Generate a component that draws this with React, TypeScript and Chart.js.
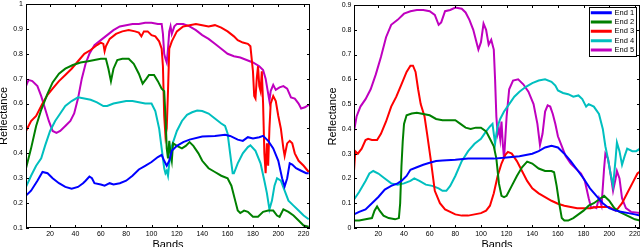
import { useEffect, useRef } from "react";
import { Chart, registerables } from "chart.js";

Chart.register(...registerables);

const FONT = "'Liberation Sans', Arial, Helvetica, sans-serif";

const SERIES_LABELS = ["End 1", "End 2", "End 3", "End 4", "End 5"];
const SERIES_COLORS = ["#0000ff", "#008000", "#ff0000", "#00bfbf", "#bf00bf"];

const X_TICKS = [20, 40, 60, 80, 100, 120, 140, 160, 180, 200, 220];
const Y_TICKS_LEFT = [0.1, 0.2, 0.3, 0.4, 0.5, 0.6, 0.7, 0.8, 0.9, 1];
const Y_TICKS_RIGHT = [0, 0.1, 0.2, 0.3, 0.4, 0.5, 0.6, 0.7, 0.8, 0.9];

type Pt = [number, number];

// ---------- Left panel: [band, reflectance] ----------
const LEFT_END1: Pt[] = [[1,0.23],[5,0.25],[10,0.29],[14,0.325],[18,0.32],[22,0.30],[27,0.28],[32,0.265],[37,0.258],[42,0.265],[46,0.28],[48,0.29],[51,0.307],[53,0.30],[55,0.28],[60,0.275],[63,0.27],[67,0.28],[70,0.275],[75,0.28],[80,0.29],[85,0.31],[90,0.335],[95,0.35],[100,0.365],[105,0.385],[108,0.394],[110,0.37],[112,0.35],[114,0.37],[116,0.41],[120,0.43],[125,0.445],[130,0.455],[140,0.468],[150,0.47],[158,0.475],[162,0.47],[168,0.455],[172,0.45],[176,0.465],[180,0.46],[185,0.465],[188,0.47],[192,0.45],[196,0.42],[200,0.37],[203,0.30],[205,0.267],[207,0.30],[209,0.36],[211,0.355],[214,0.34],[218,0.33],[222,0.32],[224,0.32]];
const LEFT_END2: Pt[] = [[1,0.34],[5,0.42],[9,0.51],[13,0.575],[18,0.64],[22,0.685],[27,0.72],[32,0.74],[38,0.755],[44,0.765],[50,0.77],[55,0.775],[60,0.78],[64,0.78],[66,0.74],[68,0.69],[70,0.74],[73,0.775],[77,0.78],[82,0.78],[86,0.76],[90,0.72],[93,0.68],[96,0.70],[98,0.715],[102,0.715],[105,0.69],[108,0.66],[110,0.65],[111,0.55],[112,0.42],[113,0.38],[114,0.45],[115,0.40],[116,0.37],[117,0.44],[120,0.43],[124,0.42],[127,0.43],[130,0.445],[133,0.43],[137,0.40],[140,0.37],[145,0.34],[150,0.325],[155,0.31],[160,0.30],[163,0.27],[166,0.21],[168,0.17],[170,0.16],[173,0.17],[176,0.165],[180,0.145],[184,0.145],[188,0.165],[192,0.17],[196,0.17],[199,0.15],[201,0.145],[204,0.175],[208,0.165],[212,0.15],[216,0.13],[220,0.11],[224,0.105]];
const LEFT_END3: Pt[] = [[1,0.49],[5,0.53],[9,0.55],[14,0.60],[18,0.635],[22,0.66],[27,0.69],[32,0.715],[37,0.74],[42,0.77],[47,0.80],[52,0.815],[57,0.835],[60,0.845],[62,0.84],[63,0.81],[64,0.83],[67,0.86],[72,0.88],[77,0.89],[82,0.895],[87,0.89],[90,0.885],[92,0.87],[94,0.89],[97,0.89],[100,0.875],[103,0.87],[106,0.85],[108,0.82],[109,0.75],[110,0.55],[111,0.47],[112,0.50],[113,0.65],[114,0.82],[116,0.85],[120,0.89],[125,0.91],[130,0.915],[135,0.92],[140,0.915],[145,0.91],[150,0.915],[155,0.905],[160,0.89],[165,0.87],[168,0.855],[172,0.845],[176,0.84],[178,0.83],[180,0.73],[181,0.63],[182,0.62],[183,0.70],[184,0.75],[185,0.67],[186,0.65],[187,0.73],[188,0.60],[189,0.40],[190,0.32],[191,0.44],[192,0.35],[193,0.50],[194,0.60],[196,0.63],[198,0.61],[200,0.55],[202,0.50],[204,0.42],[205,0.39],[207,0.44],[209,0.45],[211,0.44],[213,0.40],[216,0.37],[220,0.35],[224,0.325]];
const LEFT_END4: Pt[] = [[1,0.265],[5,0.31],[9,0.35],[13,0.38],[16,0.43],[20,0.49],[24,0.53],[28,0.56],[32,0.59],[37,0.61],[42,0.625],[47,0.62],[52,0.615],[57,0.605],[62,0.59],[65,0.59],[70,0.60],[75,0.605],[80,0.61],[85,0.61],[90,0.605],[95,0.60],[100,0.60],[103,0.57],[106,0.50],[108,0.42],[110,0.34],[111,0.32],[112,0.33],[113,0.31],[114,0.36],[116,0.43],[120,0.49],[124,0.53],[128,0.555],[132,0.565],[136,0.572],[140,0.57],[145,0.56],[150,0.54],[155,0.52],[158,0.51],[160,0.48],[162,0.40],[164,0.32],[165,0.32],[168,0.36],[172,0.40],[176,0.425],[178,0.432],[182,0.41],[186,0.36],[189,0.29],[191,0.24],[193,0.175],[195,0.21],[197,0.27],[199,0.30],[202,0.29],[205,0.25],[208,0.21],[212,0.19],[216,0.17],[220,0.15],[224,0.135]];
const LEFT_END5: Pt[] = [[1,0.67],[3,0.695],[6,0.69],[10,0.67],[13,0.63],[16,0.58],[19,0.53],[22,0.49],[25,0.482],[28,0.49],[32,0.51],[36,0.53],[39,0.56],[42,0.62],[45,0.70],[48,0.76],[51,0.80],[55,0.835],[60,0.855],[65,0.875],[70,0.895],[75,0.91],[80,0.915],[85,0.92],[90,0.92],[95,0.925],[100,0.925],[105,0.92],[108,0.92],[109,0.88],[110,0.80],[111,0.78],[112,0.765],[113,0.82],[114,0.89],[115,0.91],[116,0.88],[118,0.91],[120,0.92],[125,0.92],[130,0.91],[135,0.895],[140,0.875],[145,0.86],[150,0.84],[155,0.82],[160,0.80],[165,0.79],[170,0.785],[175,0.775],[180,0.765],[185,0.75],[188,0.735],[190,0.70],[192,0.64],[193,0.61],[194,0.65],[196,0.675],[198,0.655],[201,0.665],[204,0.67],[207,0.66],[210,0.625],[213,0.62],[216,0.60],[218,0.58],[221,0.585],[224,0.595]];

// ---------- Right panel: [band, reflectance] ----------
const RIGHT_END1: Pt[] = [[1,0.055],[5,0.065],[10,0.075],[15,0.10],[20,0.125],[25,0.155],[30,0.17],[35,0.18],[38,0.19],[42,0.21],[45,0.235],[50,0.245],[55,0.255],[60,0.263],[65,0.27],[70,0.272],[80,0.275],[90,0.28],[100,0.28],[110,0.28],[120,0.285],[130,0.29],[140,0.30],[145,0.31],[150,0.325],[155,0.332],[160,0.325],[165,0.30],[170,0.27],[175,0.235],[180,0.20],[185,0.16],[190,0.13],[195,0.10],[200,0.08],[205,0.07],[210,0.065],[215,0.06],[220,0.055],[224,0.05]];
const RIGHT_END2: Pt[] = [[1,0.03],[5,0.03],[10,0.035],[15,0.04],[17,0.07],[19,0.087],[21,0.07],[24,0.05],[28,0.04],[33,0.035],[36,0.04],[37,0.10],[38,0.25],[39,0.35],[40,0.42],[42,0.455],[46,0.462],[50,0.465],[55,0.46],[60,0.455],[65,0.44],[70,0.435],[75,0.435],[80,0.435],[84,0.42],[88,0.405],[92,0.40],[96,0.405],[100,0.405],[104,0.39],[107,0.36],[110,0.33],[112,0.28],[114,0.18],[116,0.13],[118,0.125],[120,0.13],[124,0.17],[128,0.21],[132,0.245],[136,0.268],[140,0.26],[145,0.24],[150,0.23],[155,0.23],[157,0.225],[159,0.17],[161,0.10],[163,0.04],[165,0.03],[168,0.03],[172,0.04],[176,0.055],[180,0.07],[184,0.09],[188,0.10],[192,0.115],[196,0.13],[200,0.11],[204,0.08],[208,0.065],[212,0.055],[216,0.045],[220,0.035],[224,0.03]];
const RIGHT_END3: Pt[] = [[1,0.23],[2,0.31],[4,0.30],[7,0.32],[10,0.355],[12,0.36],[15,0.355],[19,0.355],[22,0.38],[26,0.43],[30,0.49],[34,0.53],[38,0.58],[42,0.63],[45,0.655],[47,0.655],[49,0.63],[51,0.56],[53,0.50],[56,0.45],[58,0.38],[61,0.27],[64,0.15],[68,0.10],[72,0.075],[76,0.065],[80,0.055],[85,0.05],[90,0.05],[95,0.055],[100,0.06],[104,0.07],[107,0.09],[110,0.14],[113,0.21],[116,0.26],[119,0.295],[121,0.307],[124,0.30],[128,0.27],[132,0.23],[136,0.19],[140,0.16],[145,0.14],[150,0.125],[155,0.11],[160,0.098],[165,0.09],[170,0.085],[175,0.08],[180,0.08],[185,0.08],[190,0.085],[195,0.085],[200,0.085],[203,0.075],[205,0.07],[207,0.08],[210,0.10],[214,0.14],[218,0.18],[222,0.22],[224,0.228]];
const RIGHT_END4: Pt[] = [[1,0.115],[5,0.145],[10,0.19],[13,0.22],[16,0.23],[20,0.22],[25,0.20],[30,0.18],[35,0.175],[40,0.18],[45,0.19],[48,0.20],[52,0.19],[57,0.175],[62,0.17],[67,0.16],[70,0.15],[73,0.15],[76,0.17],[80,0.21],[85,0.27],[90,0.31],[95,0.34],[100,0.36],[104,0.39],[107,0.41],[109,0.42],[110,0.38],[111,0.34],[112,0.38],[113,0.41],[115,0.44],[118,0.47],[122,0.50],[126,0.53],[130,0.55],[135,0.57],[140,0.585],[145,0.595],[150,0.60],[155,0.59],[158,0.575],[160,0.555],[164,0.545],[168,0.54],[172,0.53],[176,0.535],[179,0.52],[182,0.49],[184,0.50],[188,0.49],[192,0.46],[195,0.40],[197,0.33],[199,0.28],[201,0.22],[203,0.17],[205,0.28],[206,0.345],[208,0.31],[210,0.255],[212,0.29],[214,0.32],[218,0.31],[221,0.31],[224,0.32]];
const RIGHT_END5: Pt[] = [[1,0.39],[3,0.45],[6,0.49],[10,0.52],[14,0.56],[18,0.62],[22,0.69],[26,0.77],[30,0.82],[35,0.84],[40,0.865],[45,0.875],[50,0.88],[55,0.88],[60,0.875],[64,0.86],[67,0.82],[69,0.83],[72,0.875],[76,0.88],[80,0.89],[85,0.885],[88,0.87],[91,0.84],[94,0.80],[97,0.74],[98,0.72],[100,0.75],[102,0.825],[104,0.80],[106,0.74],[108,0.76],[110,0.72],[111,0.60],[112,0.45],[113,0.38],[114,0.40],[115,0.36],[116,0.43],[117,0.34],[118,0.28],[120,0.45],[122,0.56],[125,0.595],[129,0.60],[133,0.58],[137,0.55],[141,0.50],[144,0.42],[146,0.335],[148,0.38],[150,0.47],[152,0.495],[154,0.49],[156,0.46],[158,0.42],[160,0.37],[163,0.33],[166,0.29],[170,0.26],[174,0.24],[178,0.22],[181,0.19],[184,0.12],[186,0.08],[188,0.085],[190,0.08],[192,0.12],[194,0.09],[196,0.24],[197,0.30],[199,0.28],[201,0.22],[203,0.15],[205,0.20],[206,0.23],[208,0.20],[210,0.12],[213,0.08],[217,0.065],[224,0.06]];

const LEFT_SERIES = [LEFT_END1, LEFT_END2, LEFT_END3, LEFT_END4, LEFT_END5];
const RIGHT_SERIES = [RIGHT_END1, RIGHT_END2, RIGHT_END3, RIGHT_END4, RIGHT_END5];

const tickFmt = (v: any) => String(Math.round(Number(v) * 10) / 10);

const framePlugin = {
  id: "matlabFrame",
  afterLayout(chart: any) {
    const lp = chart.options.plugins.legendPlace;
    const lg = chart.legend;
    if (lp && lg && lg.options.display) {
      lg.left = lp.left;
      lg.top = lp.top;
      lg.right = lp.left + lg.width;
      lg.bottom = lp.top + lg.height;
    }
  },
  afterDraw(chart: any) {
    const { ctx, chartArea: a, scales } = chart;
    ctx.save();
    ctx.strokeStyle = "#000";
    ctx.lineWidth = 1;
    ctx.strokeRect(a.left + 0.5, a.top + 0.5, a.right - a.left - 1, a.bottom - a.top - 1);
    const L = 3;
    ctx.beginPath();
    for (const t of scales.x.ticks) {
      const px = Math.round(scales.x.getPixelForValue(t.value)) + 0.5;
      ctx.moveTo(px, a.bottom);
      ctx.lineTo(px, a.bottom - L);
      ctx.moveTo(px, a.top);
      ctx.lineTo(px, a.top + L);
    }
    for (const t of scales.y.ticks) {
      const py = Math.round(scales.y.getPixelForValue(t.value)) + 0.5;
      ctx.moveTo(a.left, py);
      ctx.lineTo(a.left + L, py);
      ctx.moveTo(a.right, py);
      ctx.lineTo(a.right - L, py);
    }
    ctx.stroke();
    const lg = chart.legend;
    if (lg && lg.options.display && lg.legendHitBoxes && lg.legendHitBoxes.length) {
      const hb = lg.legendHitBoxes;
      let x0 = Infinity, y0 = Infinity, x1 = -Infinity, y1 = -Infinity;
      for (const h of hb) {
        x0 = Math.min(x0, h.left);
        y0 = Math.min(y0, h.top);
        x1 = Math.max(x1, h.left + h.width);
        y1 = Math.max(y1, h.top + h.height);
      }
      ctx.strokeRect(Math.round(x0 - 3) + 0.5, Math.round(y0 - 2.5) + 0.5, Math.round(x1 - x0 + 4.5), Math.round(y1 - y0 + 4));
    }
    ctx.restore();
  },
};

interface PanelOpts {
  series: Pt[][];
  xMax: number;
  yMin: number;
  yMax: number;
  yTicks: number[];
  padTop: number;
  padRight: number;
  yWidth: number;
  yTitlePad: number;
  yTickPad: number;
  legend: boolean;
}

function buildConfig(p: PanelOpts): any {
  return {
    type: "line",
    data: {
      datasets: p.series.map((s, i) => ({
        label: SERIES_LABELS[i],
        data: s.map(([x, y]) => ({ x, y })),
        borderColor: SERIES_COLORS[i],
        backgroundColor: SERIES_COLORS[i],
        borderWidth: 2,
        pointRadius: 0,
        tension: 0,
        fill: false,
      })),
    },
    options: {
      responsive: false,
      animation: false,
      events: [],
      layout: { padding: { left: 0, right: p.padRight, top: p.padTop, bottom: 0 } },
      scales: {
        x: {
          type: "linear",
          min: 1,
          max: p.xMax,
          afterBuildTicks: (scale: any) => {
            scale.ticks = X_TICKS.map((v) => ({ value: v }));
          },
          afterFit: (scale: any) => {
            scale.height = 19;
            scale.paddingLeft = 0;
            scale.paddingRight = 0;
          },
          grid: { display: false, drawTicks: false },
          border: { display: false },
          ticks: {
            padding: 2,
            color: "#000",
            font: { family: FONT, size: 7 },
            maxRotation: 0,
            autoSkip: false,
          },
          title: {
            display: true,
            text: "Bands",
            color: "#000",
            font: { family: FONT, size: 11 },
            padding: { top: 0, bottom: -4.4 },
          },
        },
        y: {
          type: "linear",
          min: p.yMin,
          max: p.yMax,
          afterBuildTicks: (scale: any) => {
            scale.ticks = p.yTicks.map((v) => ({ value: v }));
          },
          afterFit: (scale: any) => {
            scale.width = p.yWidth;
            scale.paddingTop = 0;
            scale.paddingBottom = 0;
          },
          grid: { display: false, drawTicks: false },
          border: { display: false },
          ticks: {
            padding: p.yTickPad,
            color: "#000",
            font: { family: FONT, size: 7 },
            callback: tickFmt,
            autoSkip: false,
          },
          title: {
            display: true,
            text: "Reflectance",
            color: "#000",
            font: { family: FONT, size: 11 },
            padding: { top: p.yTitlePad, bottom: 0 },
          },
        },
      },
      plugins: {
        legend: p.legend
          ? {
              display: true,
              position: "chartArea",
              align: "start",
              labels: {
                boxWidth: 19,
                boxHeight: 1,
                padding: 1.8,
                color: "#000",
                font: { family: FONT, size: 7.5 },
              },
            }
          : { display: false },
        legendPlace: p.legend ? { left: 270, top: 7.2 } : null,
        tooltip: { enabled: false },
      },
    },
    plugins: [framePlugin],
  };
}

function Panel({ opts, left }: { opts: PanelOpts; left: number }) {
  const ref = useRef<HTMLCanvasElement>(null);
  useEffect(() => {
    if (!ref.current) return;
    const chart = new Chart(ref.current, buildConfig(opts));
    return () => chart.destroy();
  }, []);
  return (
    <div style={{ position: "absolute", left, top: 0, width: 320, height: 247 }}>
      <canvas ref={ref} width={320} height={247} style={{ display: "block", width: 320, height: 247 }} />
    </div>
  );
}

const LEFT_OPTS: PanelOpts = {
  series: LEFT_SERIES,
  xMax: 225,
  yMin: 0.1,
  yMax: 1,
  yTicks: Y_TICKS_LEFT,
  padTop: 4,
  padRight: 10,
  yWidth: 26,
  yTitlePad: -2.4,
  yTickPad: 3,
  legend: false,
};

const RIGHT_OPTS: PanelOpts = {
  series: RIGHT_SERIES,
  xMax: 224,
  yMin: 0,
  yMax: 0.9,
  yTicks: Y_TICKS_RIGHT,
  padTop: 5,
  padRight: 0,
  yWidth: 34,
  yTitlePad: 6.4,
  yTickPad: 2.5,
  legend: true,
};

export default function App() {
  return (
    <div style={{ position: "absolute", left: 0, top: 0, width: 640, height: 247, background: "#fff", overflow: "hidden" }}>
      <Panel opts={LEFT_OPTS} left={0} />
      <Panel opts={RIGHT_OPTS} left={320} />
    </div>
  );
}
